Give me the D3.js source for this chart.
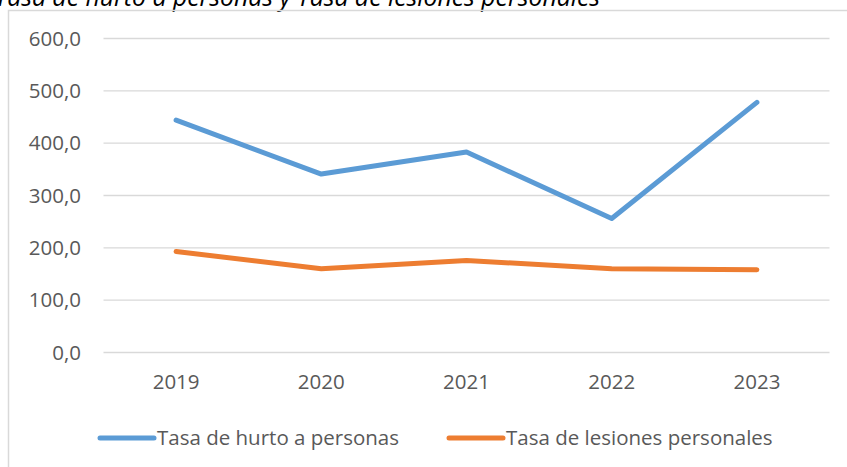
<!DOCTYPE html>
<html>
<head>
<meta charset="utf-8">
<script src="https://cdn.jsdelivr.net/npm/d3@7"></script>
<style>
  body { margin: 0; background: #fff; }
  svg { display: block; }
  text { font-family: "Open Sans", sans-serif; }
</style>
</head>
<body>
<svg id="chart"></svg>
<script>
const years = ["2019", "2020", "2021", "2022", "2023"];
const hurto = [444, 341, 383, 256, 478];
const lesiones = [193, 160, 176, 160, 158];
const yTicks = [0, 100, 200, 300, 400, 500, 600];
const seriesNames = ["Tasa de hurto a personas", "Tasa de lesiones personales"];
const seriesColors = ["#5b9bd5", "#ed7d31"];

const width = 847, height = 467;
const fontFam = "'Open Sans', sans-serif";
const fontSize = 20.5;
const svg = d3.select("#chart")
    .attr("width", width)
    .attr("height", height);

// title, mostly cut off at the top like the source
svg.append("text")
    .attr("x", 600)
    .attr("y", 5.5)
    .attr("text-anchor", "end")
    .attr("font-style", "italic")
    .attr("font-size", 24.8)
    .attr("fill", "#000")
    .text("Tasa de hurto a personas y Tasa de lesiones personales");

// chart frame (only left & top show)
svg.append("path")
    .attr("d", "M8.5,470 V10.5 H850")
    .attr("fill", "none")
    .attr("stroke", "#d9d9d9")
    .attr("stroke-width", 1.5);

const x = d3.scaleBand()
    .domain(years)
    .range([103.5, 829.5]);

const y = d3.scaleLinear()
    .domain([0, 600])
    .range([352.5, 38.5]);

// gridlines
svg.append("g")
    .selectAll("line")
    .data(yTicks)
    .join("line")
    .attr("x1", 103.5)
    .attr("x2", 829.5)
    .attr("y1", d => y(d))
    .attr("y2", d => y(d))
    .attr("stroke", "#d9d9d9")
    .attr("stroke-width", 1.3);

// y axis labels
const yAxis = d3.axisLeft(y)
    .tickValues(yTicks)
    .tickSize(0)
    .tickPadding(0)
    .tickFormat(d => d3.format(".1f")(d).replace(".", ","));

svg.append("g")
    .attr("transform", "translate(81,0)")
    .call(yAxis)
    .call(g => g.select(".domain").remove())
    .call(g => g.selectAll("text")
        .attr("font-size", fontSize)
        .attr("fill", "#595959")
        .attr("font-family", fontFam));

// x axis labels
const xAxis = d3.axisBottom(x)
    .tickSize(0)
    .tickPadding(0);

svg.append("g")
    .attr("transform", "translate(0,374.5)")
    .call(xAxis)
    .call(g => g.select(".domain").remove())
    .call(g => g.selectAll("text")
        .attr("font-size", fontSize)
        .attr("fill", "#595959")
        .attr("font-family", fontFam));

// lines
const line = d3.line()
    .x((d, i) => x(years[i]) + x.bandwidth() / 2)
    .y(d => y(d));

[hurto, lesiones].forEach((s, k) => {
  svg.append("path")
      .datum(s)
      .attr("d", line)
      .attr("fill", "none")
      .attr("stroke", seriesColors[k])
      .attr("stroke-width", 5)
      .attr("stroke-linecap", "round")
      .attr("stroke-linejoin", "round");
});

// legend
const legendX = [100, 449];
const leg = svg.append("g");
seriesNames.forEach((name, k) => {
  leg.append("line")
      .attr("x1", legendX[k])
      .attr("x2", legendX[k] + 54)
      .attr("y1", 438)
      .attr("y2", 438)
      .attr("stroke", seriesColors[k])
      .attr("stroke-width", 5)
      .attr("stroke-linecap", "round");
  leg.append("text")
      .attr("x", legendX[k] + 57)
      .attr("y", 438)
      .attr("dy", "0.35em")
      .attr("font-size", fontSize)
      .attr("fill", "#595959")
      .text(name);
});
</script>
</body>
</html>
